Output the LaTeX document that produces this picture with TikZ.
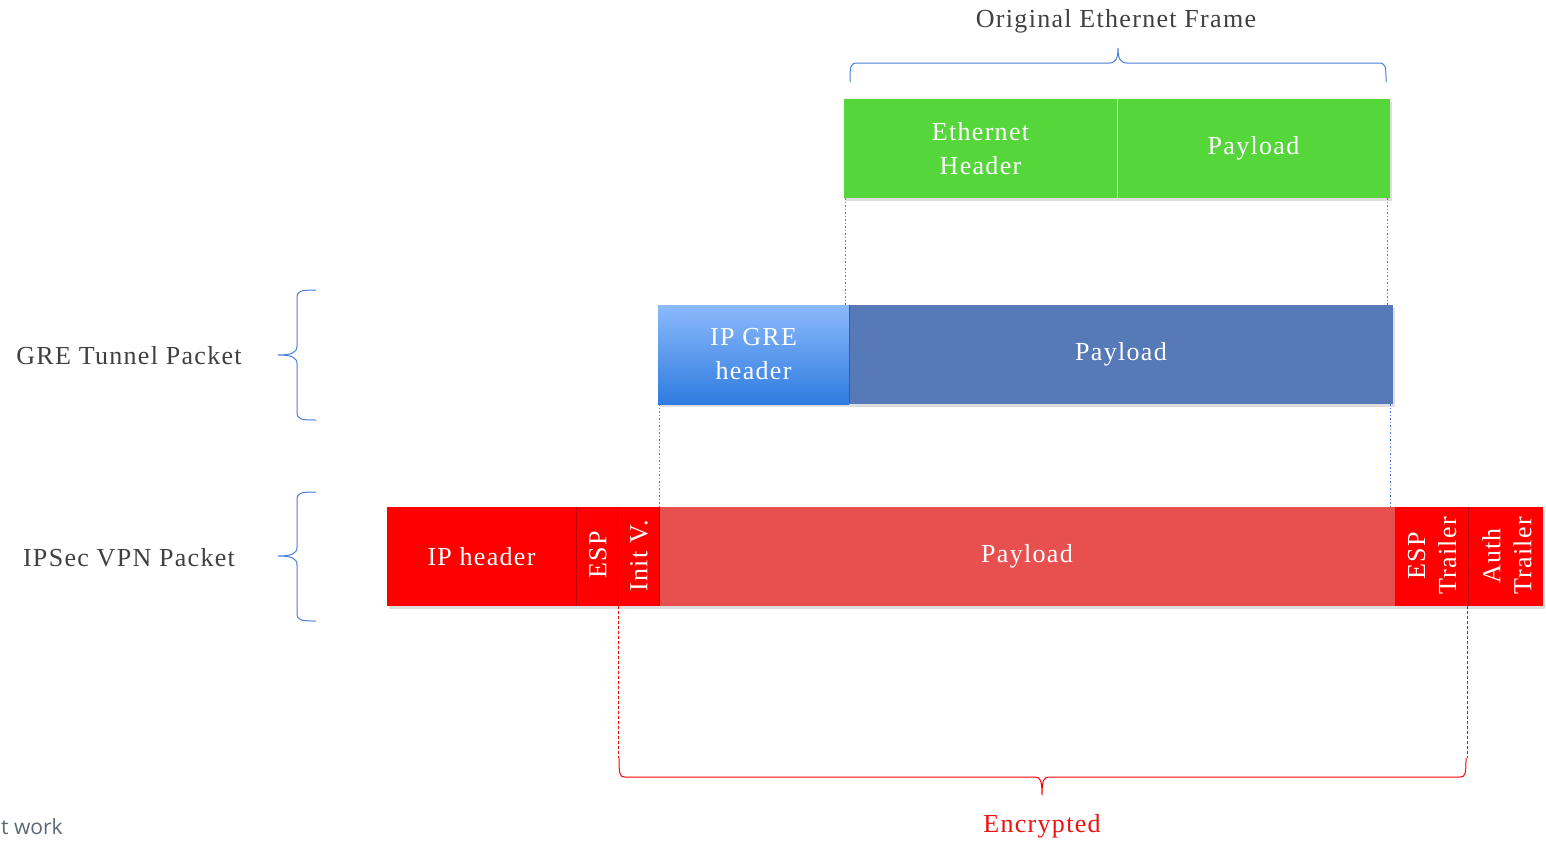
\documentclass[tikz,border=0pt]{standalone}
\usepackage{fontspec}
\setmainfont{Liberation Serif}[LetterSpace=5]
\newfontfamily\sansf{Open Sans}
\usetikzlibrary{shadows}
\definecolor{egreen}{HTML}{55D63B}
\definecolor{gblue}{HTML}{5679B7}
\definecolor{gtop}{HTML}{8CBAFC}
\definecolor{gbot}{HTML}{2E7BE0}
\definecolor{ired}{HTML}{FE0000}
\definecolor{ipay}{HTML}{E85050}
\definecolor{txtgray}{HTML}{404040}
\definecolor{bracecol}{HTML}{4A7FD6}
\definecolor{encred}{HTML}{F01010}
\definecolor{worktxt}{HTML}{5C6878}
\tikzset{
  cell/.style={draw=none, minimum height=99pt, inner sep=0pt, text=white,
    font=\fontsize{26}{34}\selectfont, align=center,
    drop shadow={shadow xshift=2pt, shadow yshift=-3pt, opacity=0.13, fill=black}},
  lbl/.style={text=txtgray, font=\fontsize{26}{32}\selectfont, inner sep=0pt},
  rot/.style={rotate=90, text=white, font=\fontsize{26}{31}\selectfont, align=center, inner sep=0pt},
  bdots/.style={draw=bracecol, line width=0.8pt, dash pattern=on 1.5pt off 2pt},
  rdots/.style={draw=red, line width=0.9pt, dash pattern=on 2.5pt off 2.5pt},
  bbrace/.style={draw=bracecol, line width=1pt},
  rbrace/.style={draw=red, line width=1pt},
}
\begin{document}
\begin{tikzpicture}[x=1pt,y=-1pt]
\useasboundingbox[fill=white] (0,0) rectangle (1546,841);

% dotted guide lines
\coordinate (d1a) at (845,198); \coordinate (d1b) at (845,305);
\coordinate (d2a) at (1387,198); \coordinate (d2b) at (1387,305);
\coordinate (d3a) at (659,404); \coordinate (d3b) at (659,507);
\coordinate (d4a) at (1390,404); \coordinate (d4b) at (1390,507);
\coordinate (d5a) at (618,606); \coordinate (d5b) at (618,758);
\coordinate (d6a) at (1467,606); \coordinate (d6b) at (1467,758);
\draw[bdots] (d1a) -- (d1b);
\draw[bdots] (d2a) -- (d2b);
\draw[bdots] (d3a) -- (d3b);
\draw[bdots] (d4a) -- (d4b);
\draw[rdots] (d5a) -- (d5b);
\draw[rdots] (d6a) -- (d6b);

% Original Ethernet frame
\node[cell, fill=egreen, minimum width=273pt] (eth) at (980.5,148.5) {Ethernet\\Header};
\node[cell, fill=egreen, minimum width=273pt] (epay) at (1253.5,148.5) {Payload};
\draw[white!80!gray, line width=0.8pt] (eth.north east) -- (eth.south east);

% GRE tunnel packet
\node[cell, top color=gtop, bottom color=gbot, minimum width=191pt] (gre) at (753.5,354.5) {IP GRE\\header};
\node[cell, fill=gblue, minimum width=544pt] (gpay) at (1121,354.5) {Payload};
\draw[gbot!80!black, line width=0.8pt] (gre.north east) -- (gre.south east);

% IPSec packet
\node[cell, fill=ired, minimum width=189pt] (iph) at (481.5,556.5) {IP header};
\node[cell, fill=ired, minimum width=41pt] (esp) at (596.5,556.5) {};
\node[cell, fill=ired, minimum width=42pt] (iv) at (638,556.5) {};
\node[cell, fill=ipay, minimum width=736pt] (ipay) at (1027,556.5) {Payload};
\node[cell, fill=ired, minimum width=73pt] (espt) at (1431.5,556.5) {};
\node[cell, fill=ired, minimum width=75pt] (auth) at (1505.5,556.5) {};
\foreach \c in {iph,esp,iv,espt}
  \draw[red!75!black, line width=0.6pt] (\c.north east) -- (\c.south east);
\node[rot] (tesp) at (598,555) {ESP};
\node[rot] (tiv) at (639,556) {Init V.};
\node[rot] (tespt) at (1432,556) {ESP\\Trailer};
\node[rot] (tauth) at (1507,556) {Auth\\Trailer};

% braces
\draw[bbrace] (850,82) .. controls (850,66) and (850,63) .. (858,63) -- (1109,63)
  .. controls (1116,63) and (1118,58) .. (1118,48)
  .. controls (1118,58) and (1120,63) .. (1127,63) -- (1378,63)
  .. controls (1386,63) and (1386,66) .. (1386,82);
\draw[bbrace] (316,290) .. controls (300,290) and (297,291) .. (297,298) -- (297,346)
  .. controls (297,353) and (291,355) .. (278,355)
  .. controls (291,355) and (297,357) .. (297,364) -- (297,412)
  .. controls (297,419) and (300,420) .. (316,420);
\draw[bbrace] (316,492) .. controls (300,492) and (297,493) .. (297,500) -- (297,547)
  .. controls (297,554) and (291,556) .. (278,556)
  .. controls (291,556) and (297,558) .. (297,565) -- (297,613)
  .. controls (297,620) and (300,621) .. (316,621);
\draw[rbrace] (619,758) .. controls (619,775) and (620,777) .. (625,777) -- (1035,777)
  .. controls (1040,777) and (1042,780) .. (1042,795)
  .. controls (1042,780) and (1044,777) .. (1049,777) -- (1460,777)
  .. controls (1465,777) and (1466,775) .. (1466,758);

% labels
\node[lbl] (torig) at (1116,21) {Original Ethernet Frame};
\node[lbl] (tgre) at (129,356) {GRE Tunnel Packet};
\node[lbl] (tips) at (129,558) {IPSec VPN Packet};
\node[lbl, text=encred] (tenc) at (1042,826) {Encrypted};
\node[anchor=base west, inner sep=0pt, text=worktxt, font=\sansf\fontsize{21}{24}\selectfont] (twork) at (1,834) {t work};
\end{tikzpicture}
\end{document}
